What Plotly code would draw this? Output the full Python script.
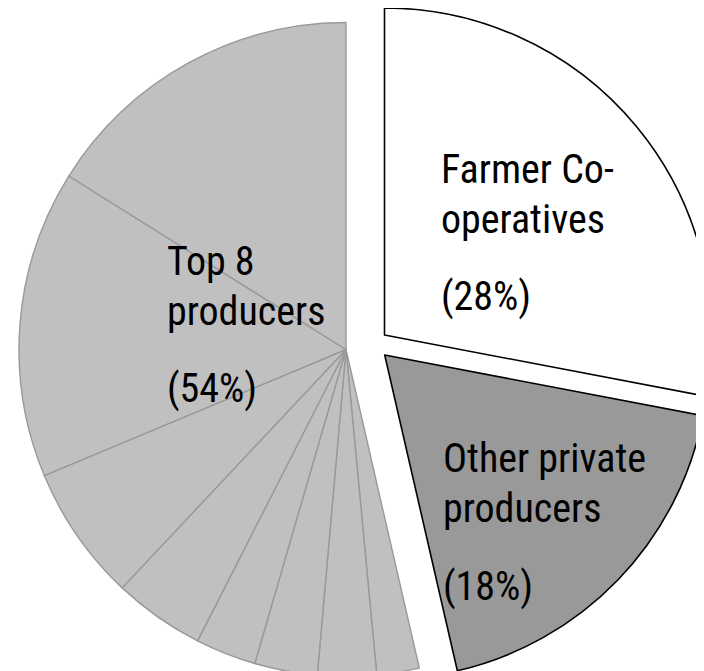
import plotly.graph_objects as go

# ---- data ----
groups = ["Farmer Co-operatives", "Other private producers", "Top 8 producers"]
group_share_text = ["(28%)", "(18%)", "(54%)"]
group_label_lines = [["Farmer Co-", "operatives"], ["Other private", "producers"], ["Top 8", "producers"]]
farmer_share = [28.0]
other_share = [18.4]
top8_names = ["Producer 8", "Producer 7", "Producer 6", "Producer 5",
              "Producer 4", "Producer 3", "Producer 2", "Producer 1"]
top8_shares = [2.1, 2.9, 3.1, 3.0, 4.5, 6.7, 15.2, 16.1]

# ---- figure ----
W, H = 704, 671
OFF = 8  # page body margin
labels = [groups[0], groups[1]] + top8_names
values = farmer_share + other_share + top8_shares
n = len(values)
CLEAR = "rgba(0,0,0,0)"


def clamp(v):
    return min(1.0, max(0.0, v))


def dom(sx, sy, r):
    cx, cy = sx - OFF, sy - OFF
    return dict(x=[clamp((cx - r) / W), clamp((cx + r) / W)],
                y=[clamp(1 - (cy + r) / H), clamp(1 - (cy - r) / H)])


def pie(fill, line_col, line_w, domain, name):
    return go.Pie(labels=labels, values=values, sort=False, direction="clockwise",
                  rotation=0, textinfo="none", hoverinfo="label+percent", name=name,
                  marker=dict(colors=fill, line=dict(color=line_col, width=line_w)),
                  domain=domain, showlegend=False)


top8_fill = [CLEAR, CLEAR] + ["#c0c0c0"] * len(top8_shares)
top8_line = [CLEAR, CLEAR] + ["#999999"] * len(top8_shares)
top8_w = [0, 0] + [1.4] * len(top8_shares)

farm_fill = ["#ffffff"] + [CLEAR] * (n - 1)
farm_line = ["#000000"] + [CLEAR] * (n - 1)
farm_w = [1.6] + [0] * (n - 1)

oth_fill = [CLEAR, "#999999"] + [CLEAR] * (n - 2)
oth_line = [CLEAR, "#000000"] + [CLEAR] * (n - 2)
oth_w = [0, 1.6] + [0] * (n - 2)

fig = go.Figure()
fig.add_trace(pie(top8_fill, top8_line, top8_w, dom(346, 349.5, 327), "Top 8"))
fig.add_trace(pie(farm_fill, farm_line, farm_w, dom(384.5, 335, 327), "Farmer"))
fig.add_trace(pie(oth_fill, oth_line, oth_w, dom(384.7, 355, 324), "Other"))

FS = 40
FONT = "Roboto Condensed, Liberation Sans Narrow, Arial Narrow, DejaVu Sans Condensed, sans-serif"
label_x = [441, 443, 167]
label_baselines = [[183, 233, 310], [472, 522, 600], [275, 325, 402]]

anns = []
for gi in range(3):
    lines = group_label_lines[gi] + [group_share_text[gi]]
    for li, txt in enumerate(lines):
        base = label_baselines[gi][li] - OFF
        yc = base - 0.342 * FS
        anns.append(dict(text=txt, x=(label_x[gi] - OFF - 2) / W, y=1 - yc / H,
                         xref="paper", yref="paper",
                         xanchor="left", yanchor="middle", showarrow=False,
                         font=dict(family=FONT, size=FS, color="#000000")))

fig.update_layout(width=W, height=H, margin=dict(l=0, r=0, t=0, b=0),
                  paper_bgcolor="#ffffff", plot_bgcolor="#ffffff", annotations=anns)

fig.write_html("out.html")
